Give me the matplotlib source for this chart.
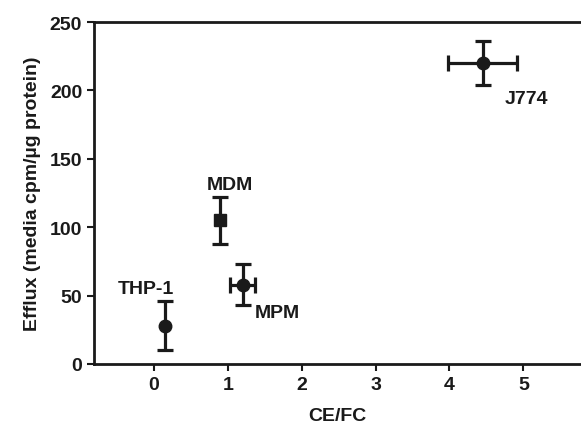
import matplotlib.pyplot as plt

# cell lines and their CE/FC ratio vs efflux
cells = ["THP-1", "MDM", "MPM", "J774"]
ce_fc = [0.15, 0.9, 1.2, 4.45]
ce_fc_err = [0.0, 0.0, 0.17, 0.47]
efflux = [28, 105, 58, 220]
efflux_err = [18, 17, 15, 16]
markers = ["o", "s", "o", "o"]

plt.rcParams["font.family"] = ["Liberation Sans", "DejaVu Sans"]
plt.rcParams["font.weight"] = "bold"

fig = plt.figure(figsize=(5.81, 4.27), dpi=100)
ax = fig.add_axes([94 / 581, 1 - 365 / 427, 1 - 94 / 581, (365 - 23) / 427])

for i, name in enumerate(cells):
    ax.errorbar(ce_fc[i], efflux[i], yerr=efflux_err[i],
                xerr=ce_fc_err[i] if ce_fc_err[i] > 0 else None,
                fmt=markers[i], color="#1a1a1a", markersize=9,
                elinewidth=2.3, capsize=5.5, capthick=2.3)

# label anchors (left edge, vertical centre) in data units
label_pos = {"THP-1": (-0.49, 55), "MDM": (0.71, 131), "MPM": (1.37, 38), "J774": (4.75, 194)}
for name in cells:
    lx, ly = label_pos[name]
    ax.text(lx, ly, name, fontsize=14, fontweight="bold", color="#1a1a1a",
            ha="left", va="center")

ax.set_xlim(-0.81, 5.78)
ax.set_ylim(0, 250)
ax.set_xticks([0, 1, 2, 3, 4, 5])
ax.set_yticks([0, 50, 100, 150, 200, 250])
ax.spines["right"].set_visible(False)
for s in ["left", "bottom", "top"]:
    ax.spines[s].set_linewidth(2)
    ax.spines[s].set_color("#1a1a1a")
ax.tick_params(axis="both", width=1.5, length=5, labelsize=14, colors="#1a1a1a")
for lab in ax.get_xticklabels() + ax.get_yticklabels():
    lab.set_fontweight("bold")

ax.set_xlabel("CE/FC", fontsize=14, fontweight="bold", color="#1a1a1a", labelpad=10)
ax.set_ylabel("Efflux (media cpm/\u00b5g protein)", fontsize=14, fontweight="bold",
              color="#1a1a1a", labelpad=6)

fig.savefig("out.png", dpi=100)
